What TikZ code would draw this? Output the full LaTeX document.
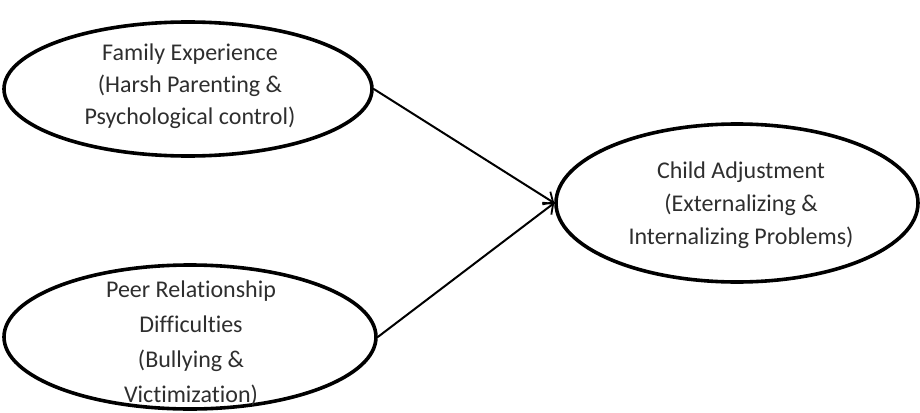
\documentclass[tikz,border=0pt]{standalone}
\usepackage{fontspec}
\setmainfont{Carlito}[Ligatures={NoCommon}]
\usetikzlibrary{arrows.meta,shapes.geometric}
\definecolor{txt}{HTML}{2E2E2E}
\tikzset{
  oval/.style={draw=black, line width=3.6pt, ellipse, inner sep=0pt},
  lbl/.style={align=center, text=txt, font=\fontsize{24}{32}\selectfont, inner sep=0pt},
  link/.style={line width=2pt, -{Straight Barb[length=8pt,width=15pt,line width=1.8pt]}}
}
\begin{document}
\begin{tikzpicture}[x=1pt,y=-1pt]
\useasboundingbox (0,0) rectangle (920,412);
\node[oval, minimum width=368pt, minimum height=134pt] (fam) at (188,89) {};
\node[oval, minimum width=372pt, minimum height=144pt] (peer) at (190,337) {};
\node[oval, minimum width=362pt, minimum height=158pt] (child) at (737,203) {};
\node[lbl] (famt) at (190,86) {Family Experience\\(Harsh Parenting \&\\Psychological control)};
\node[lbl, font=\fontsize{24}{35}\selectfont] (peert) at (191,343) {Peer Relationship\\Difficulties\\(Bullying \&\\Victimization)};
\node[lbl, font=\fontsize{24}{33}\selectfont] (childt) at (741,205) {Child Adjustment\\(Externalizing \&\\Internalizing Problems)};
\draw[link] (fam.east) -- (child.west);
\draw[link] (peer.east) -- (child.west);
\end{tikzpicture}
\end{document}
